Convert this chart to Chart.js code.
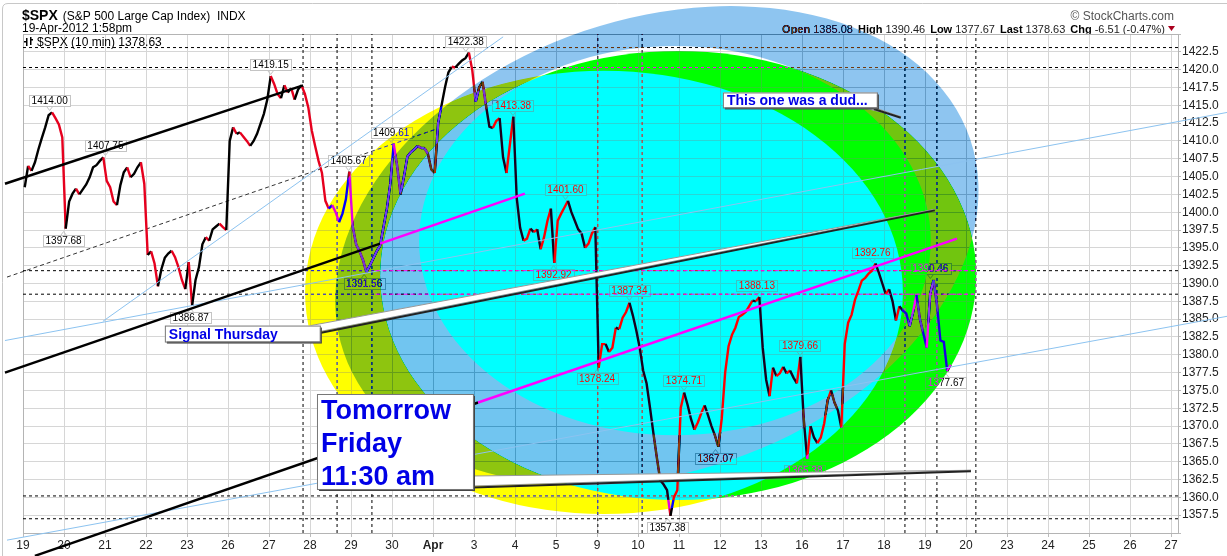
<!DOCTYPE html>
<html>
<head>
<meta charset="utf-8">
<script src="https://cdn.jsdelivr.net/npm/chart.js@4.4.1/dist/chart.umd.min.js"></script>
<style>
  html, body { margin: 0; padding: 0; background: #fff; }
  #wrap { width: 1227px; height: 556px; position: relative; }
</style>
</head>
<body>
<div id="wrap"><canvas id="spx"></canvas></div>
<script>
// one x unit per trading session, Mar 19 .. Apr 27 2012
const DAY_LABELS = ['19','20','21','22','23','26','27','28','29','30','Apr','3','4','5','9','10','11','12','13','16','17','18','19','20','23','24','25','26','27'];
const BARS_PER_DAY = 12;
const X_MAX = 28.17;
const Y_MIN = 1355, Y_MAX = 1425;

// $SPX, 12 samples a session
const CLOSES = [
  1403.5, 1406.5, 1405.8, 1407.0, 1408.8, 1410.4, 1411.9, 1413.6, 1414.0, 1413.2, 1412.3, 1410.5, // Mar 19
  1397.7, 1401.5, 1402.6, 1403.3, 1402.5, 1403.2, 1403.9, 1404.9, 1406.3, 1406.6, 1407.2, 1407.7, // Mar 20
  1404.4, 1403.5, 1401.5, 1401.0, 1403.8, 1405.6, 1406.3, 1404.9, 1405.4, 1406.3, 1407.0, 1404.0, // Mar 21
  1394.0, 1394.5, 1392.8, 1389.6, 1392.0, 1393.6, 1394.2, 1394.6, 1393.7, 1392.3, 1390.5, 1389.2, // Mar 22
  1393.0, 1386.9, 1390.5, 1392.3, 1395.5, 1396.5, 1396.0, 1397.6, 1398.0, 1398.4, 1397.9, 1397.5, // Mar 23
  1410.0, 1411.9, 1411.0, 1411.2, 1410.6, 1410.0, 1409.3, 1410.0, 1411.0, 1412.4, 1413.8, 1415.8, // Mar 26
  1419.1, 1418.0, 1416.6, 1416.0, 1417.8, 1416.8, 1417.4, 1415.8, 1417.2, 1417.8, 1416.6, 1414.7, // Mar 27
  1411.5, 1409.3, 1407.2, 1405.5, 1401.6, 1400.5, 1401.0, 1400.0, 1398.6, 1399.8, 1401.8, 1405.7, // Mar 28
  1398.0, 1395.5, 1394.5, 1393.3, 1391.6, 1392.5, 1393.5, 1394.5, 1395.3, 1397.9, 1400.5, 1404.0, // Mar 29
  1409.6, 1406.5, 1402.5, 1405.0, 1407.8, 1408.4, 1408.8, 1409.3, 1409.0, 1409.0, 1408.2, 1406.0, // Mar 30
  1405.5, 1412.5, 1415.0, 1417.5, 1419.6, 1420.4, 1420.3, 1420.8, 1421.3, 1421.6, 1422.4, 1419.9, // Apr 2
  1415.5, 1417.5, 1418.3, 1415.0, 1412.0, 1411.8, 1412.8, 1413.2, 1407.7, 1405.5, 1409.5, 1413.4, // Apr 3
  1402.0, 1397.8, 1396.0, 1396.3, 1397.7, 1397.2, 1397.6, 1394.8, 1396.5, 1398.8, 1400.5, 1392.9, // Apr 4
  1398.8, 1399.8, 1400.7, 1401.6, 1400.0, 1398.8, 1397.6, 1397.0, 1395.0, 1395.6, 1397.0, 1397.9, // Apr 5
  1378.2, 1381.5, 1381.5, 1380.4, 1381.0, 1383.8, 1383.6, 1385.2, 1386.0, 1387.3, 1385.5, 1383.4, // Apr 9
  1381.0, 1377.8, 1376.0, 1372.6, 1369.0, 1365.6, 1362.4, 1361.8, 1361.0, 1357.4, 1360.0, 1361.0, // Apr 10
  1372.5, 1374.7, 1373.0, 1371.0, 1369.5, 1370.5, 1371.8, 1372.9, 1371.5, 1370.0, 1368.7, 1367.1, // Apr 11
  1371.0, 1377.5, 1381.2, 1382.8, 1383.8, 1385.3, 1385.6, 1386.0, 1386.8, 1387.6, 1387.5, 1388.1, // Apr 12
  1381.0, 1376.5, 1374.2, 1378.2, 1377.0, 1377.4, 1378.3, 1377.4, 1377.8, 1376.8, 1376.0, 1379.7, // Apr 13
  1371.0, 1365.4, 1370.0, 1368.4, 1367.6, 1368.4, 1370.4, 1373.6, 1375.0, 1373.3, 1372.2, 1369.8, // Apr 16
  1381.5, 1384.5, 1385.6, 1387.7, 1389.0, 1390.4, 1390.8, 1391.4, 1391.8, 1392.8, 1391.5, 1390.0, // Apr 17
  1388.5, 1389.2, 1387.5, 1384.8, 1386.8, 1386.2, 1385.8, 1384.0, 1386.0, 1388.4, 1385.0, 1383.0, // Apr 18
  1381.0, 1388.5, 1390.5, 1387.0, 1382.0, 1381.8, 1377.7, 1378.6                                  // Apr 19 (to 1:58pm)
];

// price flags: session position, value, above/below the bar
const FLAG_DAY   = [0.65, 0.99, 2.01, 6.04, 4.09, 7.94, 8.98, 8.32, 10.80, 11.95, 13.23, 12.94, 14.79, 14.00, 16.12, 16.89, 17.90, 18.95, 15.72, 19.06, 20.72, 22.13, 22.51];
const FLAG_VALUE = [1414.00, 1397.68, 1407.75, 1419.15, 1386.87, 1405.67, 1409.61, 1391.56, 1422.38, 1413.38, 1401.60, 1392.92, 1387.34, 1378.24, 1374.71, 1367.07, 1388.13, 1379.66, 1357.38, 1365.38, 1392.76, 1390.46, 1377.67];
const FLAG_BELOW = [0, 1, 0, 0, 1, 0, 0, 1, 0, 0, 0, 1, 0, 1, 0, 1, 0, 0, 1, 1, 0, 0, 1];

// drawn lines [day0, price0, day1, price1]
const BLACK_LINES = [[-0.44, 1404.0, 6.83, 1417.8], [-0.44, 1377.5, 8.71, 1395.6], [0.29, 1351.8, 11.10, 1373.3]];
const DASHED_TREND = [-0.39, 1390.9, 10.10, 1411.7];
const PINK_LINES = [[8.71, 1395.6, 12.24, 1402.6], [11.10, 1373.3, 22.78, 1396.3]];
const BLUE_LINES = [[1.95, 1384.7, 11.71, 1424.6], [-0.44, 1382.0, 29.37, 1414.0], [-0.39, 1354.0, 29.37, 1385.4]];
const H_DASHED = [1423.1, 1420.3, 1391.8, 1388.5, 1360.2, 1357.0];
const PINK_DASHED = [1391.8, 1388.5];
const V_DASHED = [6.83, 7.66, 8.51, 14.02, 15.10, 21.51, 22.29, 23.24];

// ellipses [centre day, centre price, half axis in days, half axis in points]
const OVAL_YELLOW = [14.17, 1388.75, 7.29, 31.1];
const OVAL_GREEN = [15.98, 1391.13, 7.27, 31.5];
const RING_OUTER = [15.46, 1395.3, 8.07, 31.8];
const RING_INNER = [15.90, 1396.0, 6.24, 27.3];
const RING_TILT = [-18.8, 0];

const QUOTE = ['Open', '1385.08', 'High', '1390.46', 'Low', '1377.67', 'Last', '1378.63', 'Chg', '-6.51 (-0.47%)'];

const FONT = '"Liberation Sans", Arial, sans-serif';
const BLUE_TEXT = 'rgb(0,0,230)';

function seg(pts, color, width, dash, order) {
  return { data: pts, borderColor: color, borderWidth: width, borderDash: dash || [],
    pointRadius: 0, clip: false, order: order, tension: 0, fill: false };
}
function two(l) { return [{ x: l[0], y: l[1] }, { x: l[2], y: l[3] }]; }

const datasets = [];
datasets.push({
  data: CLOSES.map((c, i) => ({ x: (i + 0.5) / BARS_PER_DAY, y: c })),
  borderWidth: 2.4, pointRadius: 0, tension: 0, order: 10,
  segment: { borderColor: (c) => c.p1.parsed.y < c.p0.parsed.y ? 'rgb(230,0,30)' : '#000' }
});
H_DASHED.forEach(v => datasets.push(seg([{ x: 0, y: v }, { x: X_MAX, y: v }], '#000', 1, [3, 3], 20)));
V_DASHED.forEach(d => datasets.push(seg([{ x: d, y: Y_MIN }, { x: d, y: Y_MAX }], '#000', 1, [3, 3], 20)));
datasets.push(seg(two(DASHED_TREND), '#333', 1, [4, 3], 20));
BLUE_LINES.forEach(l => datasets.push(seg(two(l), 'rgb(140,195,240)', 1, null, 3)));
BLACK_LINES.forEach(l => datasets.push(seg(two(l), '#000', 2.5, null, 2)));
PINK_DASHED.forEach(v => datasets.push(seg([{ x: 8.6, y: v }, { x: 23.27, y: v }], 'rgb(255,0,255)', 1, [4, 3], 1)));
PINK_LINES.forEach(l => datasets.push(seg(two(l), 'rgb(255,0,255)', 2.5, null, 1)));

function P(chart, d, v) { return [chart.scales.x.getPixelForValue(d), chart.scales.y.getPixelForValue(v)]; }

function ovalPath(ctx, chart, o, tiltDeg) {
  const tilt = tiltDeg * Math.PI / 180;
  const [cx, cy] = P(chart, o[0], o[1]);
  const rx = chart.scales.x.getPixelForValue(o[0] + o[2]) - cx;
  const ry = cy - chart.scales.y.getPixelForValue(o[1] + o[3]);
  ctx.moveTo(cx + rx * Math.cos(tilt), cy + rx * Math.sin(tilt));
  ctx.ellipse(cx, cy, rx, ry, tilt, 0, Math.PI * 2);
}

function flag(ctx, x, y, text, below) {
  ctx.font = '10px ' + FONT;
  const w = Math.round(ctx.measureText(text).width + 5), h = 11;
  const top = below ? y + 6 : y - 6 - h;
  const l = Math.round(x - w / 2) + 0.5, t = Math.round(top) + 0.5;
  ctx.fillStyle = '#fff';
  ctx.strokeStyle = '#c4c4c4';
  ctx.lineWidth = 1;
  ctx.fillRect(l, t, w, h);
  ctx.strokeRect(l, t, w, h);
  ctx.beginPath();
  if (below) { ctx.moveTo(x - 3, t); ctx.lineTo(x, t - 4); ctx.lineTo(x + 3, t); }
  else { ctx.moveTo(x - 3, t + h); ctx.lineTo(x, t + h + 4); ctx.lineTo(x + 3, t + h); }
  ctx.stroke();
  ctx.fillStyle = '#000';
  ctx.textAlign = 'center';
  ctx.textBaseline = 'middle';
  ctx.fillText(text, x, t + h / 2 + 0.5);
}

function wedge(ctx, a, b, tip) {
  ctx.beginPath();
  ctx.moveTo(a[0], a[1]); ctx.lineTo(tip[0], tip[1]); ctx.lineTo(b[0], b[1]); ctx.closePath();
  ctx.fillStyle = '#fff'; ctx.fill();
  ctx.strokeStyle = '#999'; ctx.lineWidth = 1; ctx.stroke();
  ctx.beginPath();
  ctx.moveTo(b[0], b[1] + 1.5); ctx.lineTo(tip[0], tip[1] + 1);
  ctx.strokeStyle = '#222'; ctx.lineWidth = 2; ctx.stroke();
}

function callout(ctx, chart, at, size, tip, lines, font, lineGap, tail) {
  const [x, y] = P(chart, at[0], at[1]);
  const t = P(chart, tip[0], tip[1]);
  const w = size[0], h = size[1];
  if (tail === 'top') wedge(ctx, [x + w - 9, y], [x + w, y + 6], t);
  if (tail === 'side') wedge(ctx, [x + w, y + h - 13], [x + w, y + h - 3], t);
  if (tail === 'under') wedge(ctx, [x + w - 15, y + h], [x + w - 3, y + h], t);
  ctx.fillStyle = '#444';
  ctx.fillRect(x + 2, y + 2, w, h);
  ctx.fillStyle = '#fff';
  ctx.fillRect(x, y, w, h);
  ctx.strokeStyle = '#777';
  ctx.lineWidth = 1;
  ctx.strokeRect(x + 0.5, y + 0.5, w, h);
  ctx.fillStyle = BLUE_TEXT;
  ctx.font = font;
  ctx.textAlign = 'left';
  ctx.textBaseline = 'alphabetic';
  lines.forEach((s, i) => ctx.fillText(s, x + 4, y + lineGap[0] + i * lineGap[1]));
}

function header(ctx, chart) {
  ctx.save();
  ctx.strokeStyle = '#c8c8c8';
  ctx.lineWidth = 1;
  ctx.beginPath();
  ctx.moveTo(8, 3.5); ctx.lineTo(1227, 3.5);
  ctx.moveTo(2.5, 9); ctx.lineTo(2.5, 556);
  ctx.moveTo(8, 3.5); ctx.quadraticCurveTo(2.5, 3.5, 2.5, 9);
  ctx.stroke();

  ctx.fillStyle = '#000';
  ctx.textAlign = 'left';
  ctx.textBaseline = 'alphabetic';
  ctx.font = 'bold 14px ' + FONT;
  ctx.fillText('$SPX', 22, 20);
  const w = ctx.measureText('$SPX').width;
  ctx.font = '12px ' + FONT;
  ctx.fillText('(S&P 500 Large Cap Index)  INDX', 22 + w + 5, 20);
  ctx.fillText('19-Apr-2012 1:58pm', 22, 32);
  ctx.fillText('$SPX (10 min) 1378.63', 37, 46);
  // small bar glyph of the legend
  ctx.fillRect(26, 38, 1.5, 8);
  ctx.fillRect(30, 37, 1.5, 8);
  ctx.fillRect(24, 41, 2, 1.5);
  ctx.fillRect(31, 39, 2, 1.5);

  ctx.fillStyle = '#555';
  ctx.font = '12px ' + FONT;
  ctx.textAlign = 'right';
  ctx.fillText('\u00A9 StockCharts.com', 1174, 20);

  // quote line, laid out from the right edge
  let x = 1165;
  for (let i = QUOTE.length - 1; i >= 0; i--) {
    const bold = i % 2 === 0;
    ctx.font = (bold ? 'bold ' : '') + '11px ' + FONT;
    ctx.fillStyle = bold ? '#000' : '#222';
    ctx.fillText(QUOTE[i], x, 33);
    x -= ctx.measureText(QUOTE[i]).width + (bold ? 5 : 3);
  }
  ctx.fillStyle = 'rgb(170,0,30)';
  ctx.beginPath();
  ctx.moveTo(1168, 26); ctx.lineTo(1175, 26); ctx.lineTo(1171.5, 31); ctx.closePath();
  ctx.fill();

  const a = chart.chartArea;
  ctx.strokeStyle = '#b4b4b4';
  ctx.strokeRect(a.left + 0.5, a.top + 0.5, a.right - a.left, a.bottom - a.top);
  ctx.restore();
}

const annotate = {
  id: 'annotate',
  beforeDraw(chart) {
    const ctx = chart.ctx;
    ctx.save();
    ctx.fillStyle = '#fff';
    ctx.fillRect(0, 0, chart.width, chart.height);
    ctx.restore();
  },
  beforeDatasetsDraw(chart) { header(chart.ctx, chart); },
  afterDatasetDraw(chart, args) {
    if (args.index !== 0) return;
    const ctx = chart.ctx;
    ctx.save();
    FLAG_VALUE.forEach((v, i) => {
      const [x, y] = P(chart, FLAG_DAY[i], v);
      flag(ctx, x, y, v.toFixed(2), FLAG_BELOW[i] === 1);
    });
    // StockCharts paints its ovals in xor style over the bars
    ctx.globalCompositeOperation = 'difference';
    ctx.beginPath(); ovalPath(ctx, chart, OVAL_YELLOW, 0);
    ctx.fillStyle = 'rgb(0,0,255)'; ctx.fill();
    ctx.beginPath(); ovalPath(ctx, chart, OVAL_GREEN, 0);
    ctx.fillStyle = 'rgb(255,0,255)'; ctx.fill();
    ctx.beginPath();
    ovalPath(ctx, chart, RING_OUTER, RING_TILT[0]);
    ovalPath(ctx, chart, RING_INNER, RING_TILT[1]);
    ctx.fillStyle = 'rgb(113,58,15)';
    ctx.fill('evenodd');
    ctx.restore();
  },
  afterDatasetsDraw(chart) {
    const ctx = chart.ctx;
    ctx.save();
    callout(ctx, chart, [3.46, 1384.1], [155, 16], [22.24, 1400.4], ['Signal Thursday'], 'bold 14px ' + FONT, [13, 0], 'top');
    callout(ctx, chart, [7.17, 1374.5], [156, 95], [23.12, 1363.8], ['Tomorrow', 'Friday', '11:30 am'], 'bold 27px ' + FONT, [25, 33], 'side');
    callout(ctx, chart, [17.07, 1416.8], [154, 15], [21.41, 1413.4], ['This one was a dud...'], 'bold 14px ' + FONT, [13, 0], 'under');
    ctx.restore();
  }
};

new Chart(document.getElementById('spx'), {
  type: 'line',
  data: { datasets: datasets },
  options: {
    responsive: true,
    maintainAspectRatio: false,
    animation: false,
    events: [],
    layout: { padding: { left: 23, top: 34, right: 0, bottom: 0 } },
    plugins: { legend: { display: false }, tooltip: { enabled: false } },
    scales: {
      x: {
        type: 'linear', min: 0, max: X_MAX,
        afterBuildTicks: (axis) => { axis.ticks = DAY_LABELS.map((_, i) => ({ value: i })); },
        afterFit: (s) => { s.height = 23; },
        grid: { color: 'rgb(214,214,214)', tickLength: 4, tickColor: '#bbb' },
        border: { color: '#b4b4b4' },
        ticks: {
          autoSkip: false, maxRotation: 0, padding: 1, color: '#222',
          font: (c) => ({ family: FONT, size: 12, weight: c.tick && c.tick.label === 'Apr' ? 'bold' : 'normal' }),
          callback: (v) => DAY_LABELS[v]
        }
      },
      y: {
        position: 'right', min: Y_MIN, max: Y_MAX,
        afterFit: (s) => { s.width = 49; },
        grid: { color: 'rgb(214,214,214)', tickLength: 3, tickColor: '#bbb' },
        border: { color: '#b4b4b4' },
        ticks: {
          stepSize: 2.5, padding: 1, color: '#222',
          font: { family: FONT, size: 12 },
          callback: (v) => (v <= Y_MIN || v >= Y_MAX) ? '' : v.toFixed(1)
        }
      }
    }
  },
  plugins: [annotate]
});
</script>
</body>
</html>
